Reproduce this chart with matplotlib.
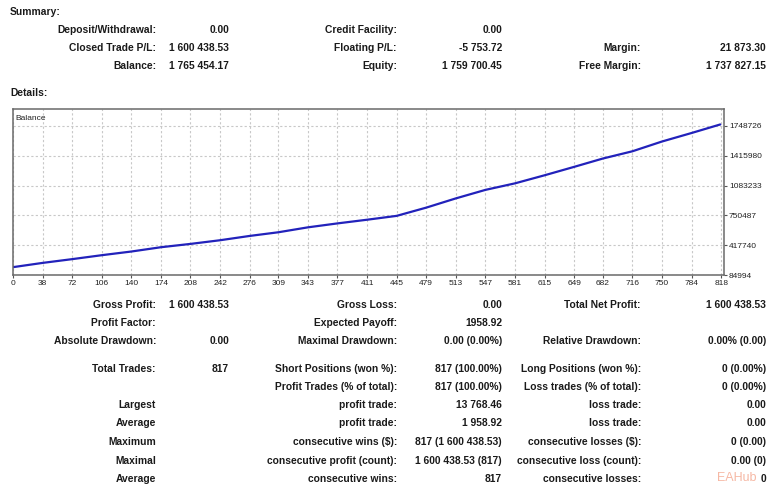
import matplotlib.pyplot as plt

# balance curve (trade number -> balance)
trades = [0, 38, 72, 106, 140, 174, 208, 242, 276, 309, 343, 377, 411,
          445, 479, 513, 547, 581, 615, 649, 682, 716, 750, 784, 817]
balance = [167000, 220000, 262000, 306000, 347000, 395000, 432000, 473000,
           521000, 562000, 617000, 661000, 702000, 745000, 837000, 940000,
           1035000, 1108000, 1198000, 1292000, 1385000, 1466000, 1575000,
           1670000, 1765454]

x_ticks = [0, 38, 72, 106, 140, 174, 208, 242, 276, 309, 343, 377, 411, 445,
           479, 513, 547, 581, 615, 649, 682, 716, 750, 784, 818]
y_ticks = [84994, 417740, 750487, 1083233, 1415980, 1748726]

# summary block
sum_labels1 = ["Deposit/Withdrawal:", "Closed Trade P/L:", "Balance:"]
sum_values1 = ["0.00", "1 600 438.53", "1 765 454.17"]
sum_labels2 = ["Credit Facility:", "Floating P/L:", "Equity:"]
sum_values2 = ["0.00", "-5 753.72", "1 759 700.45"]
sum_labels3 = ["", "Margin:", "Free Margin:"]
sum_values3 = ["", "21 873.30", "1 737 827.15"]

# details block
det_labels1 = ["Gross Profit:", "Profit Factor:", "Absolute Drawdown:", "Total Trades:", "",
               "Largest", "Average", "Maximum", "Maximal", "Average"]
det_values1 = ["1 600 438.53", "", "0.00", "817", "", "", "", "", "", ""]
det_labels2 = ["Gross Loss:", "Expected Payoff:", "Maximal Drawdown:", "Short Positions (won %):",
               "Profit Trades (% of total):", "profit trade:", "profit trade:",
               "consecutive wins ($):", "consecutive profit (count):", "consecutive wins:"]
det_values2 = ["0.00", "1958.92", "0.00 (0.00%)", "817 (100.00%)", "817 (100.00%)",
               "13 768.46", "1 958.92", "817 (1 600 438.53)", "1 600 438.53 (817)", "817"]
det_labels3 = ["Total Net Profit:", "", "Relative Drawdown:", "Long Positions (won %):",
               "Loss trades (% of total):", "loss trade:", "loss trade:",
               "consecutive losses ($):", "consecutive loss (count):", "consecutive losses:"]
det_values3 = ["1 600 438.53", "", "0.00% (0.00)", "0 (0.00%)", "0 (0.00%)",
               "0.00", "0.00", "0 (0.00)", "0.00 (0)", "0"]

W, H = 779, 493
fig = plt.figure(figsize=(W / 100, H / 100), dpi=100)
fig.patch.set_facecolor('white')

FONT = ['Liberation Sans', 'DejaVu Sans']
TXT = '#1a1a1a'


def put(x, y, s, ha='right', size=7.4, weight='bold', color=TXT):
    fig.text(x / W, 1 - y / H, s, ha=ha, va='center', fontsize=size,
             fontweight=weight, color=color, family=FONT)


cols = [156, 229, 397, 502, 641, 766]

put(10, 12, "Summary:", ha='left')
sum_y = [30, 48, 66]
for i, y in enumerate(sum_y):
    for c, col in enumerate([sum_labels1, sum_values1, sum_labels2,
                             sum_values2, sum_labels3, sum_values3]):
        if col[i]:
            put(cols[c], y, col[i])

put(10, 93, "Details:", ha='left')

# watermark (under the text)
fig.text(717 / W, 1 - 478 / H, "EAHub", ha='left', va='center', fontsize=9,
         color='#f6b8a4', family=FONT)

det_y = [305, 323, 341.5, 368.5, 387, 405.5, 423.5, 442, 460.5, 479]
for i, y in enumerate(det_y):
    for c, col in enumerate([det_labels1, det_values1, det_labels2,
                             det_values2, det_labels3, det_values3]):
        if col[i]:
            put(cols[c], y, col[i])

# balance chart
ax = fig.add_axes([13 / W, 1 - 275 / H, 711 / W, 166 / H])
ax.plot(trades, balance, color='#2222bb', lw=1.6, solid_capstyle='round')
ax.set_xlim(4, 821.3)
ax.set_ylim(84994, 1938000)

xt = [max(t, 4) for t in x_ticks]
ax.set_xticks(xt)
ax.set_xticklabels([str(t) for t in x_ticks])
ax.set_yticks(y_ticks)
ax.set_yticklabels([str(t) for t in y_ticks])
ax.yaxis.tick_right()
ax.tick_params(axis='both', length=2, width=0.8, color='#555555', pad=1.5,
               labelsize=6, labelcolor='#222222')
for lab in ax.get_xticklabels() + ax.get_yticklabels():
    lab.set_family(FONT)

ax.grid(True, color='#c8c8c8', linestyle=(0, (2, 2)), lw=0.8)
for sp in ax.spines.values():
    sp.set_color('#6a6a6a')
    sp.set_linewidth(1.1)

ax.text(0.004, 0.965, "Balance", transform=ax.transAxes, ha='left', va='top',
        fontsize=6, color='#222222', family=FONT)

fig.savefig('out.png', dpi=100)
